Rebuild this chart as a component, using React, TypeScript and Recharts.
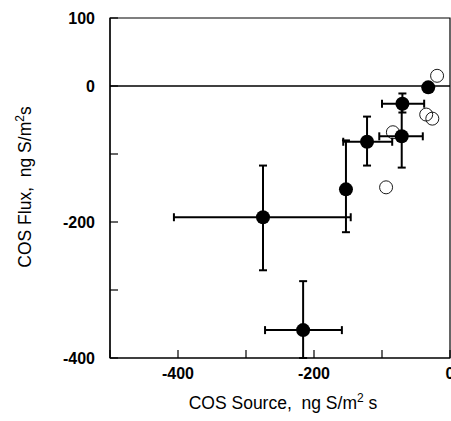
import { ScatterChart, Scatter, XAxis, YAxis, ErrorBar, ReferenceLine, ReferenceArea, Label } from 'recharts';

// filled points: COS source vs COS flux, with asymmetric error bars
const sourceX = [-32, -70, -71, -122, -153, -275, -216];
const fluxY = [-2, -26, -74, -82, -152, -193, -359];
const sourceErrLow = [0, 30, 33, 35, 0, 131, 56];
const sourceErrHigh = [0, 32, 31, 37, 0, 129, 57];
const fluxErrLow = [0, 13, 46, 35, 63, 78, 41];
const fluxErrHigh = [0, 15, 46, 37, 72, 76, 72];

// open circles
const openX = [-19, -35, -26, -84, -94];
const openY = [15, -42, -48, -68, -149];

const xTicks = [-500, -400, -300, -200, -100, 0];
const yTicks = [-400, -300, -200, -100, 0, 100];
const xLabelled = [-400, -200, 0];
const yLabelled = [100, 0, -200, -400];

const filled = sourceX.map((x, i) => ({
  x,
  y: fluxY[i],
  xErr: [sourceErrLow[i], sourceErrHigh[i]],
  yErr: [fluxErrLow[i], fluxErrHigh[i]],
}));
const open = openX.map((x, i) => ({ x, y: openY[i] }));

const font = 'Liberation Sans, Arial, Helvetica, sans-serif';
const tickStyle = { fontFamily: font, fontSize: 16, fontWeight: 700, fill: '#000' };

const FilledDot = (p: any) => <circle cx={p.cx} cy={p.cy} r={7} fill="#000" />;
const OpenDot = (p: any) => <circle cx={p.cx} cy={p.cy} r={6.5} fill="none" stroke="#000" strokeWidth={0.9} />;

export default function App() {
  return (
    <div style={{ position: 'absolute', left: 0, top: 0, width: 451, height: 421, background: '#fff' }}>
      <ScatterChart width={451} height={421} margin={{ top: 18, right: 1, left: 0, bottom: 0 }}>
        <ReferenceArea x1={-500} x2={0} y1={-400} y2={100} fill="none" stroke="#000" strokeWidth={1.2} />
        <ReferenceLine y={0} stroke="#000" strokeWidth={1.5} />
        <XAxis
          type="number"
          dataKey="x"
          domain={[-500, 0]}
          ticks={xTicks}
          interval={0}
          allowDataOverflow
          height={63}
          tickSize={-8}
          tickMargin={18}
          tick={tickStyle}
          tickFormatter={(v: number) => (xLabelled.includes(v) ? String(v) : '')}
          axisLine={{ stroke: '#000', strokeWidth: 1.2 }}
          tickLine={{ stroke: '#000', strokeWidth: 1.2 }}
        >
          <Label
            content={() => (
              <text x={283} y={409} textAnchor="middle" fontFamily={font} fontSize={17.5} fill="#000">
                COS Source,{'\u00a0\u00a0'}ng S/m
                <tspan dy={-7} fontSize={12}>2</tspan>
                <tspan dy={7}>{'\u00a0'}s</tspan>
              </text>
            )}
          />
        </XAxis>
        <YAxis
          type="number"
          dataKey="y"
          domain={[-400, 100]}
          ticks={yTicks}
          interval={0}
          allowDataOverflow
          width={110}
          tickSize={-8}
          tickMargin={23}
          tick={tickStyle}
          tickFormatter={(v: number) => (yLabelled.includes(v) ? String(v) : '')}
          axisLine={{ stroke: '#000', strokeWidth: 1.2 }}
          tickLine={{ stroke: '#000', strokeWidth: 1.2 }}
        >
          <Label
            content={() => (
              <text x={31} y={187} transform="rotate(-90, 31, 187)" textAnchor="middle" fontFamily={font} fontSize={17.5} fill="#000">
                COS Flux,{'\u00a0\u00a0'}ng S/m
                <tspan dy={-7} fontSize={12}>2</tspan>
                <tspan dy={7}>s</tspan>
              </text>
            )}
          />
        </YAxis>
        <Scatter data={open} shape={OpenDot} isAnimationActive={false} />
        <Scatter data={filled} shape={FilledDot} isAnimationActive={false}>
          <ErrorBar dataKey="xErr" direction="x" width={4} stroke="#000" strokeWidth={2} />
          <ErrorBar dataKey="yErr" direction="y" width={4} stroke="#000" strokeWidth={2} />
        </Scatter>
      </ScatterChart>
    </div>
  );
}
